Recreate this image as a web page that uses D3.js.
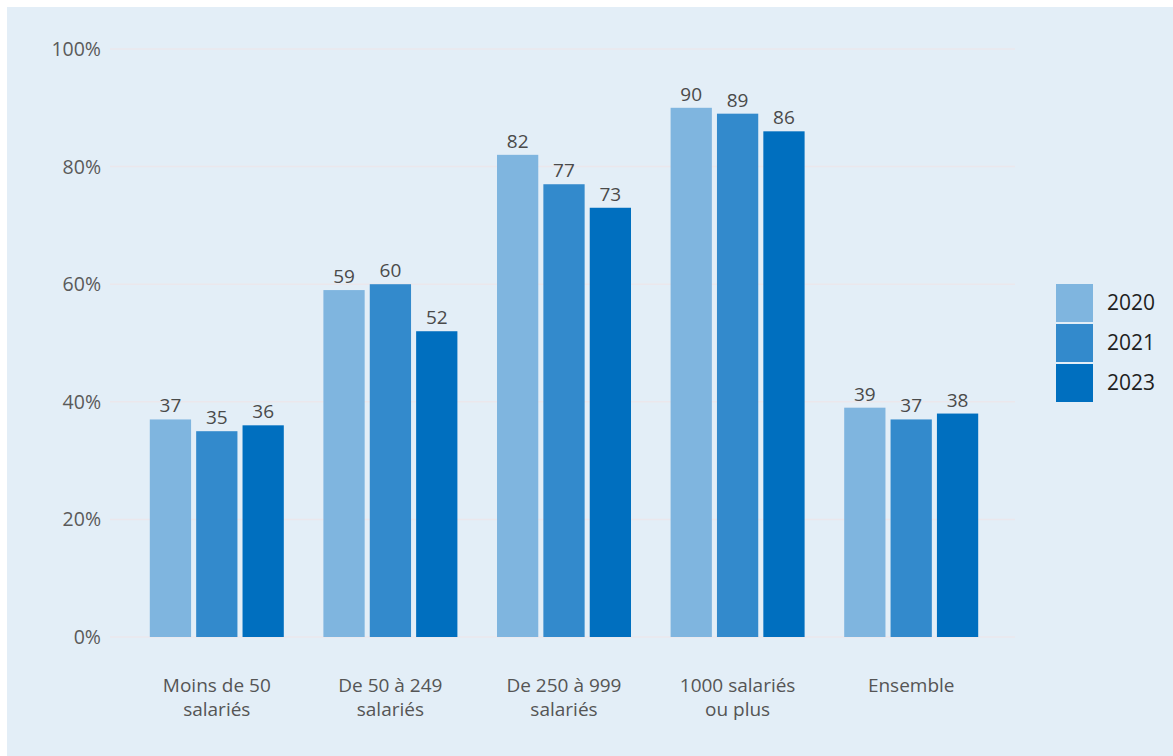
<!DOCTYPE html>
<html>
<head>
<meta charset="utf-8">
<script src="https://cdn.jsdelivr.net/npm/d3@7"></script>
<style>
  body { margin: 0; background: #fff; }
  svg text { font-family: "Open Sans", Lato, sans-serif; }
</style>
</head>
<body>
<div id="container"></div>
<script>
// categories (two-line labels)
let categories = [
    ["Moins de 50", "salariés"],
    ["De 50 à 249", "salariés"],
    ["De 250 à 999", "salariés"],
    ["1000 salariés", "ou plus"],
    ["Ensemble"]
]
let years = ["2020", "2021", "2023"]
let v2020 = [37, 59, 82, 90, 39]
let v2021 = [35, 60, 77, 89, 37]
let v2023 = [36, 52, 73, 86, 38]
let yTicks = [0, 20, 40, 60, 80, 100]

let colors = ["#7fb5df", "#338acc", "#006fbf"]
let series = [v2020, v2021, v2023]

let W = 1173, H = 756
let svg = d3.select("#container").append("svg")
    .attr("width", W)
    .attr("height", H)

svg.append("rect")
    .attr("x", 7).attr("y", 7)
    .attr("width", W - 7).attr("height", H - 7)
    .attr("fill", "#e3eef7")

let y = d3.scaleLinear().domain([0, 100]).range([637, 49])

let x0 = d3.scaleBand()
    .domain(d3.range(categories.length))
    .range([130, 998])
    .paddingInner(0).paddingOuter(0)

let x1 = d3.scaleBand()
    .domain(d3.range(years.length))
    .range([x0.bandwidth() / 2 - 67, x0.bandwidth() / 2 + 67])
    .paddingInner(0.11)

// grid
svg.append("g").selectAll("line")
    .data(yTicks)
    .join("line")
    .attr("x1", 110).attr("x2", 1015)
    .attr("y1", d => y(d)).attr("y2", d => y(d))
    .attr("stroke", "#ebe7ec")
    .attr("stroke-width", 1.5)

svg.append("g").selectAll("text")
    .data(yTicks)
    .join("text")
    .attr("x", 101)
    .attr("y", d => y(d) + 7)
    .attr("text-anchor", "end")
    .attr("font-size", 19.5)
    .attr("fill", "#5a5a5a")
    .text(d => d + "%")

// bars
let groups = svg.append("g").selectAll("g")
    .data(categories)
    .join("g")
    .attr("transform", (d, i) => `translate(${x0(i)},0)`)

groups.each(function (cat, ci) {
    let g = d3.select(this)
    series.forEach((vals, si) => {
        g.append("rect")
            .attr("x", x1(si))
            .attr("y", y(vals[ci]))
            .attr("width", x1.bandwidth())
            .attr("height", y(0) - y(vals[ci]))
            .attr("fill", colors[si])
        g.append("text")
            .attr("x", x1(si) + x1.bandwidth() / 2)
            .attr("y", y(vals[ci]) - 7)
            .attr("text-anchor", "middle")
            .attr("font-size", 19)
            .attr("fill", "#4a4a4a")
            .text(vals[ci])
    })
    // one text element per line
    cat.forEach((line, li) => {
        g.append("text")
            .attr("x", x0.bandwidth() / 2)
            .attr("y", 692 + li * 24)
            .attr("text-anchor", "middle")
            .attr("font-size", 19)
            .attr("fill", "#555")
            .text(line)
    })
})

// legend
let legend = svg.append("g")
years.forEach((yr, i) => {
    legend.append("rect")
        .attr("x", 1056).attr("y", 284 + i * 40)
        .attr("width", 37).attr("height", 38)
        .attr("fill", colors[i])
    legend.append("text")
        .attr("x", 1107).attr("y", 284 + i * 40 + 26)
        .attr("font-size", 21)
        .attr("fill", "#1e1e1e")
        .text(yr)
})
</script>
</body>
</html>
